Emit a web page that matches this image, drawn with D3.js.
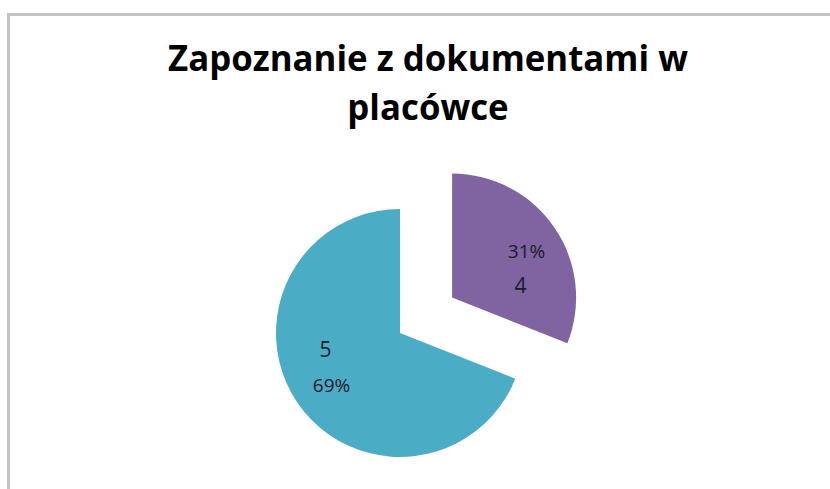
<!DOCTYPE html>
<html>
<head>
<meta charset="utf-8">
<script src="https://cdn.jsdelivr.net/npm/d3@7"></script>
<style>
  body { margin: 0; background: #fff; }
  svg { display: block; }
</style>
</head>
<body>
<svg id="chart" width="830" height="489"></svg>
<script>
// chart data
var title = ["Zapoznanie z dokumentami w", "placówce"];
var categories = ["4", "5"];
var percents = [31, 69];
var colors = ["#8064A2", "#4BACC6"];
// which line of the label comes first: category or percent
var labelOrder = [["pct", "cat"], ["cat", "pct"]];

var svg = d3.select("#chart");
var W = +svg.attr("width"), H = +svg.attr("height");

// chart area border (only top/left visible in the crop)
svg.append("path")
  .attr("d", "M8.5," + H + " L8.5,14.5 L" + W + ",14.5")
  .attr("fill", "none")
  .attr("stroke", "#c4c4c4")
  .attr("stroke-width", 3);

// title: Open Sans bold, squeezed horizontally to a Calibri-like width
var titleX = 428;
var tg = svg.append("g");
var t = tg.append("text")
  .attr("text-anchor", "middle")
  .attr("font-family", "'Open Sans', sans-serif")
  .attr("font-weight", "bold")
  .attr("font-size", 36)
  .attr("fill", "#000");
t.append("tspan").attr("x", 0).attr("y", 71).text(title[0]);
t.append("tspan").attr("x", 0).attr("y", 120).text(title[1]);
var w0 = t.select("tspan").node().getComputedTextLength();
tg.attr("transform", "translate(" + titleX + ",0) scale(" + (520 / w0) + ",1)");

var cx = 400, cy = 333, r = 124, explode = 63;

var pie = d3.pie().sort(null).value(function(d) { return d; });
var arcs = pie(percents);
var arc = d3.arc().innerRadius(0).outerRadius(r);

var g = svg.append("g").attr("transform", "translate(" + cx + "," + cy + ")");

var slices = g.selectAll("g.slice")
  .data(arcs)
  .enter().append("g")
  .attr("class", "slice")
  .attr("transform", function(d, i) {
    if (i !== 0) return null;
    var mid = (d.startAngle + d.endAngle) / 2;
    return "translate(" + (Math.sin(mid) * explode) + "," + (-Math.cos(mid) * explode) + ")";
  });

slices.append("path")
  .attr("d", arc)
  .attr("fill", function(d, i) { return colors[i]; });

// labels sit a bit clockwise of the slice middle, like Excel's best fit
var labelR = r * 0.63, labelTurn = 0.18;
slices.each(function(d, i) {
  var a = (d.startAngle + d.endAngle) / 2 + labelTurn;
  var lx = Math.sin(a) * labelR, ly = -Math.cos(a) * labelR;
  var txt = d3.select(this).append("text")
    .attr("text-anchor", "middle")
    .attr("font-family", "'Open Sans', sans-serif")
    .attr("fill", "#1a1a2a");
  labelOrder[i].forEach(function(kind, j) {
    var isCat = kind === "cat";
    txt.append("tspan")
      .attr("x", lx + (isCat ? -3 : 3))
      .attr("y", ly + (j === 0 ? -8 : 27))
      .attr("font-size", isCat ? 21 : 19)
      .text(isCat ? categories[i] : percents[i] + "%");
  });
});
</script>
</body>
</html>
